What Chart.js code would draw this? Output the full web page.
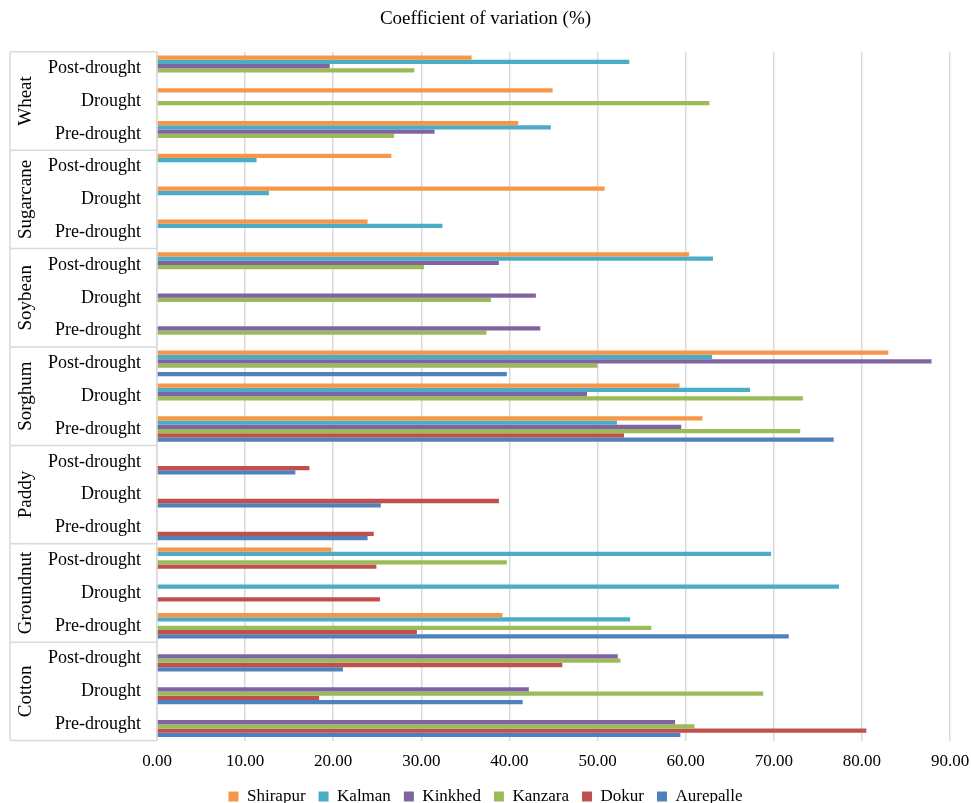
<!DOCTYPE html>
<html lang="en">
<head>
  <meta charset="UTF-8" />
  <title>Coefficient of variation (%)</title>
  <script src="https://cdn.jsdelivr.net/npm/chart.js"></script>
  <style>
    html, body { margin: 0; padding: 0; background: #fff; overflow: hidden; }
    .chart-container { position: relative; width: 971px; height: 815px; }
  </style>
</head>
<body>
  <div class="chart-container">
    <canvas id="cvChart"></canvas>
  </div>

  <script>
    // Categories, top to bottom
    const crops = ['Wheat', 'Sugarcane', 'Soybean', 'Sorghum', 'Paddy', 'Groundnut', 'Cotton'];
    const phases = ['Post-drought', 'Drought', 'Pre-drought'];
    const xTicks = [0, 10, 20, 30, 40, 50, 60, 70, 80, 90];

    // Values per village, in the same order as crops x phases
    const shirapur  = [35.7, 44.9, 41.0,  26.6, 50.8, 23.9,  60.4, null, null,  83.0, 59.3, 61.9,  null, null, null,  19.8, null, 39.2,  null, null, null];
    const kalman    = [53.6, null, 44.7,  11.3, 12.7, 32.4,  63.1, null, null,  63.0, 67.3, 52.2,  null, null, null,  69.7, 77.4, 53.7,  null, null, null];
    const kinkhed   = [19.6, null, 31.5,  null, null, null,  38.8, 43.0, 43.5,  87.9, 48.8, 59.5,  null, null, null,  null, null, null,  52.3, 42.2, 58.8];
    const kanzara   = [29.2, 62.7, 26.9,  null, null, null,  30.3, 37.9, 37.4,  50.0, 73.3, 73.0,  null, null, null,  39.7, null, 56.1,  52.6, 68.8, 61.0];
    const dokur     = [null, null, null,  null, null, null,  null, null, null,  null, null, 53.0,  17.3, 38.8, 24.6,  24.9, 25.3, 29.5,  46.0, 18.4, 80.5];
    const aurepalle = [null, null, null,  null, null, null,  null, null, null,  39.7, null, 76.8,  15.7, 25.4, 23.9,  null, null, 71.7,  21.1, 41.5, 59.4];

    const labels = [];
    crops.forEach(() => phases.forEach(p => labels.push(p)));

    const serif = "'Liberation Serif', 'Times New Roman', serif";

    const series = [
      { label: 'Shirapur',  data: shirapur,  color: '#F79646' },
      { label: 'Kalman',    data: kalman,    color: '#4BACC6' },
      { label: 'Kinkhed',   data: kinkhed,   color: '#8064A2' },
      { label: 'Kanzara',   data: kanzara,   color: '#9BBB59' },
      { label: 'Dokur',     data: dokur,     color: '#C0504D' },
      { label: 'Aurepalle', data: aurepalle, color: '#4F81BD' }
    ];

    // crop names and the table-like lines on the left
    const groupLabels = {
      id: 'groupLabels',
      afterDraw(chart) {
        const ctx = chart.ctx;
        const y = chart.scales.y;
        const area = chart.chartArea;
        const left = 10;
        const n = phases.length;
        ctx.save();
        ctx.strokeStyle = '#d9d9d9';
        ctx.lineWidth = 1.5;
        ctx.beginPath();
        ctx.moveTo(left, area.top);
        ctx.lineTo(left, area.bottom);
        ctx.moveTo(left, area.top);
        ctx.lineTo(area.left, area.top);
        ctx.moveTo(left, area.bottom);
        ctx.lineTo(area.left, area.bottom);
        for (let g = 1; g < crops.length; g++) {
          const yy = (y.getPixelForTick(g * n - 1) + y.getPixelForTick(g * n)) / 2;
          ctx.moveTo(left, yy);
          ctx.lineTo(area.left, yy);
        }
        ctx.stroke();

        ctx.fillStyle = '#000';
        ctx.font = '19px ' + serif;
        ctx.textAlign = 'center';
        ctx.textBaseline = 'middle';
        crops.forEach((crop, g) => {
          const cy = y.getPixelForTick(g * n + 1);
          ctx.save();
          ctx.translate(26, cy);
          ctx.rotate(-Math.PI / 2);
          ctx.fillText(crop, 0, 0);
          ctx.restore();
        });
        ctx.restore();
      }
    };

    new Chart(document.getElementById('cvChart').getContext('2d'), {
      type: 'bar',
      data: {
        labels: labels,
        datasets: series.map(s => ({
          label: s.label,
          data: s.data,
          backgroundColor: s.color,
          borderWidth: 0,
          categoryPercentage: 0.78,
          barPercentage: 1.0
        }))
      },
      options: {
        indexAxis: 'y',
        responsive: true,
        maintainAspectRatio: false,
        animation: false,
        layout: { padding: 0 },
        scales: {
          x: {
            min: 0,
            max: 90,
            afterBuildTicks: axis => { axis.ticks = xTicks.map(v => ({ value: v })); },
            // let the last tick label run to the edge, pull the legend up a bit
            afterFit: axis => { axis.paddingRight = 21; axis.height -= 8; },
            ticks: {
              color: '#000',
              font: { family: serif, size: 17 },
              padding: 11,
              callback: v => Number(v).toFixed(2)
            },
            grid: { color: '#d9d9d9', lineWidth: 1.5, drawTicks: false },
            border: { display: false }
          },
          y: {
            afterFit: axis => { axis.width = 157; },
            ticks: {
              color: '#000',
              font: { family: serif, size: 18 },
              padding: 8,
              autoSkip: false
            },
            grid: { display: false },
            border: { display: true, color: '#d9d9d9', width: 1.5 }
          }
        },
        plugins: {
          title: {
            display: true,
            text: 'Coefficient of variation (%)',
            color: '#000',
            font: { family: serif, size: 19, weight: 'normal' },
            padding: { top: 8, bottom: 21 }
          },
          legend: {
            position: 'bottom',
            labels: {
              color: '#000',
              font: { family: serif, size: 17 },
              boxWidth: 10,
              boxHeight: 10,
              padding: 13
            }
          },
          tooltip: { enabled: false }
        }
      },
      plugins: [groupLabels]
    });
  </script>
</body>
</html>
